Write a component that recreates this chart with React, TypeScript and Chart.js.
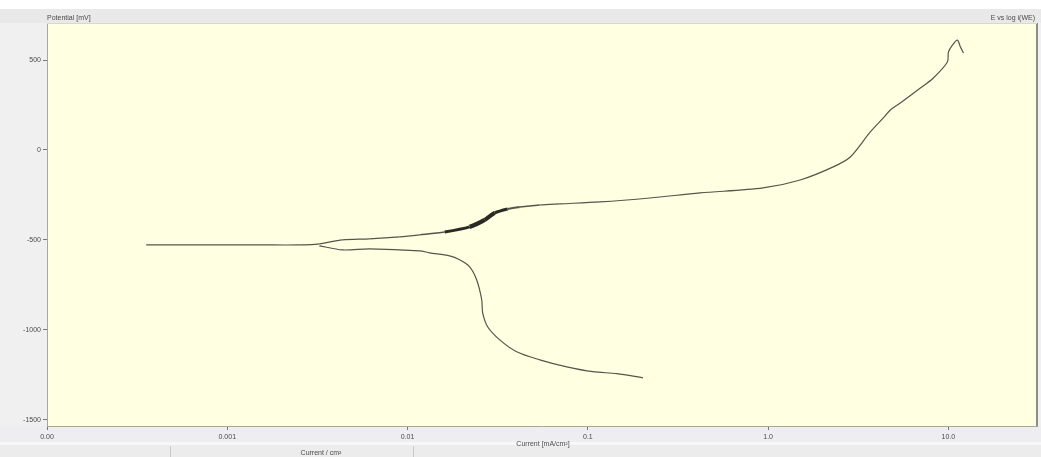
import React, { useEffect, useRef } from "react";
import { Chart, registerables } from "chart.js";

Chart.register(...registerables);

// Anodic branch: current density (mA/cm²) and potential (mV)
const anodicCurrent = [
  0.000355, 0.000699, 0.001506, 0.00251, 0.00324, 0.00435, 0.00615, 0.00903, 0.01166,
  0.01605, 0.0221, 0.02678, 0.03044, 0.0359, 0.0419, 0.0541, 0.0699, 0.1166, 0.221,
  0.419, 0.938, 1.506, 2.297, 2.855, 3.687, 4.354, 4.762, 5.41, 6.99, 8.25, 9.87, 10.0,
  10.52, 11.22, 11.66, 12.12,
];
const anodicPotential = [
  -528, -528, -528, -528, -522, -500, -494, -483, -472, -456, -428, -389, -350, -328,
  -317, -306, -300, -289, -267, -239, -211, -167, -94, -39, 100, 178, 222, 261, 344,
  400, 489, 544, 583, 611, 572, 539,
];

// Cathodic branch
const cathodicCurrent = [
  0.00324, 0.00435, 0.00615, 0.01166, 0.01326, 0.0171, 0.01945, 0.0221, 0.02416, 0.02578,
  0.0261, 0.0278, 0.03245, 0.0403, 0.0541, 0.0764, 0.1066, 0.1449, 0.2021,
];
const cathodicPotential = [
  -533, -556, -550, -561, -572, -589, -611, -650, -722, -833, -906, -983, -1056, -1122,
  -1167, -1206, -1233, -1244, -1267,
];

const currentTicks = [0.0001, 0.001, 0.01, 0.1, 1, 10];
const currentTickLabels = ["0.00", "0.001", "0.01", "0.1", "1.0", "10.0"];
const potentialTicks = [500, 0, -500, -1000, -1500];

const W = 1041;
const H = 457;
const FONT = "Liberation Sans, Arial, sans-serif";

const framePlugin = {
  id: "frame",
  beforeDraw(chart: any) {
    const { ctx, chartArea: a } = chart;
    ctx.save();
    ctx.fillStyle = "#f0f0f0";
    ctx.fillRect(0, 0, W, H);
    ctx.fillStyle = "#ffffff";
    ctx.fillRect(0, 0, W, 9);
    ctx.fillStyle = "#e9e9e9";
    ctx.fillRect(0, 9, W, a.top - 9);
    ctx.fillStyle = "#eeedf2";
    ctx.fillRect(0, a.bottom, W, 442 - a.bottom);
    ctx.fillStyle = "#f7f7f7";
    ctx.fillRect(0, 442, W, 3);
    ctx.fillStyle = "#ececec";
    ctx.fillRect(0, 445, W, H - 445);
    ctx.strokeStyle = "#c8c8c8";
    ctx.lineWidth = 1;
    [170.5, 413.5].forEach((x) => {
      ctx.beginPath();
      ctx.moveTo(x, 446);
      ctx.lineTo(x, H);
      ctx.stroke();
    });
    ctx.fillStyle = "#ffffe1";
    ctx.fillRect(a.left, a.top, a.right - a.left, a.bottom - a.top);
    ctx.restore();
  },
  afterDraw(chart: any) {
    const { ctx, chartArea: a } = chart;
    ctx.save();
    ctx.strokeStyle = "#8c8c8c";
    ctx.lineWidth = 2;
    ctx.beginPath();
    ctx.moveTo(a.right, a.top);
    ctx.lineTo(a.right, a.bottom);
    ctx.stroke();
    ctx.strokeStyle = "#d8d8cc";
    ctx.lineWidth = 1;
    ctx.beginPath();
    ctx.moveTo(a.left, a.top + 0.5);
    ctx.lineTo(a.right, a.top + 0.5);
    ctx.stroke();

    ctx.fillStyle = "#4a4a4a";
    ctx.font = `7px ${FONT}`;
    ctx.textBaseline = "middle";
    ctx.textAlign = "left";
    ctx.fillText("Potential [mV]", a.left, 18);
    ctx.textAlign = "right";
    ctx.fillText("E vs log i(WE)", a.right - 2, 18);
    ctx.textAlign = "center";
    ctx.fillText("Current [mA/cm²]", 543, 444);
    ctx.fillText("Current / cm²", 321, 453);
    ctx.restore();
  },
};

// heavier trace around the noisy stretch above the knee, tapering off on both sides
const noiseWidth = (c: any) => {
  const mid = (Math.log10(c.p0.parsed.x) + Math.log10(c.p1.parsed.x)) / 2;
  const d = (mid + 1.6) / 0.16;
  return 1.2 + 3.2 * Math.exp(-d * d);
};

export default function App() {
  const canvasRef = useRef<HTMLCanvasElement | null>(null);

  useEffect(() => {
    document.body.style.margin = "0";
    const canvas = canvasRef.current;
    if (!canvas) return;

    const toPoints = (xs: number[], ys: number[]) => xs.map((x, i) => ({ x, y: ys[i] }));
    const lineColor = "#55554a";

    const chart = new Chart(canvas, {
      type: "scatter",
      data: {
        datasets: [
          {
            label: "anodic",
            data: toPoints(anodicCurrent, anodicPotential),
            showLine: true,
            borderColor: lineColor,
            borderWidth: 1.2,
            pointRadius: 0,
            tension: 0.3,
            segment: {
              borderWidth: noiseWidth,
              borderColor: (c: any) => (noiseWidth(c) > 2 ? "#2a2a24" : lineColor),
            },
          },
          {
            label: "cathodic",
            data: toPoints(cathodicCurrent, cathodicPotential),
            showLine: true,
            borderColor: lineColor,
            borderWidth: 1.2,
            pointRadius: 0,
            tension: 0.3,
          },
        ],
      },
      options: {
        animation: false,
        responsive: false,
        devicePixelRatio: 1,
        layout: { padding: { top: 23, right: 4, left: 0, bottom: 0 } },
        plugins: {
          legend: { display: false },
          tooltip: { enabled: false },
          title: { display: false },
        },
        scales: {
          x: {
            type: "logarithmic",
            min: 0.0001,
            max: 31,
            border: { display: true, color: "#a9a98f", width: 1 },
            grid: { drawOnChartArea: false, drawTicks: true, tickLength: 4, color: "#777" },
            afterBuildTicks: (s: any) => {
              s.ticks = currentTicks.map((v) => ({ value: v }));
            },
            afterFit: (s: any) => {
              s.height = 31;
            },
            ticks: {
              autoSkip: false,
              maxRotation: 0,
              padding: 3,
              color: "#4a4a4a",
              font: { size: 7, family: FONT },
              callback: (v: any) => {
                const i = currentTicks.findIndex((t) => Math.abs(t - v) / t < 1e-6);
                return i >= 0 ? currentTickLabels[i] : "";
              },
            },
          },
          y: {
            type: "linear",
            min: -1535,
            max: 706,
            border: { display: true, color: "#a9a98f", width: 1 },
            grid: { drawOnChartArea: false, drawTicks: true, tickLength: 4, color: "#777" },
            afterBuildTicks: (s: any) => {
              s.ticks = potentialTicks.map((v) => ({ value: v }));
            },
            afterFit: (s: any) => {
              s.width = 47;
            },
            ticks: {
              padding: 2,
              color: "#4a4a4a",
              font: { size: 7, family: FONT },
              callback: (v: any) => String(v),
            },
          },
        },
      },
      plugins: [framePlugin],
    });

    return () => chart.destroy();
  }, []);

  return <canvas ref={canvasRef} width={W} height={H} style={{ display: "block", width: W, height: H }} />;
}
